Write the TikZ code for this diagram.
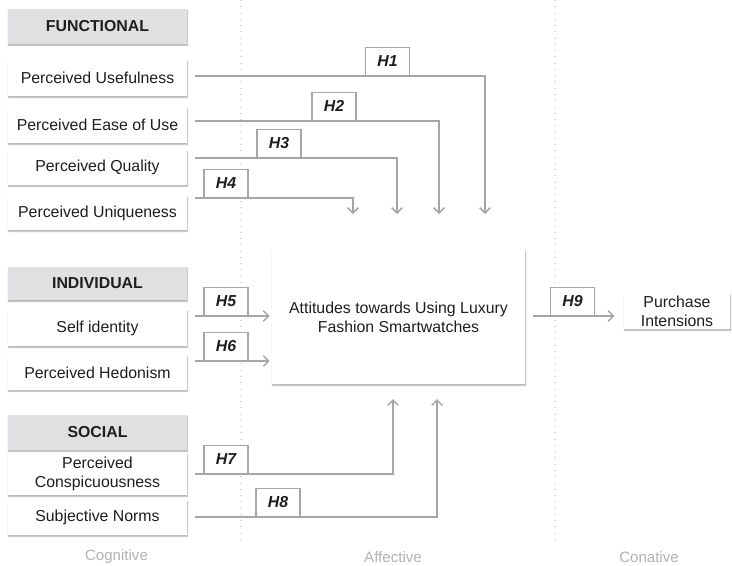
\documentclass[tikz,border=0pt]{standalone}
\usepackage{fontspec}
\setmainfont{Liberation Sans}
\usetikzlibrary{arrows.meta,shadows.blur}
\definecolor{linegray}{RGB}{165,165,170}
\definecolor{headgray}{RGB}{224,224,226}
\definecolor{stagegray}{RGB}{178,178,178}
\definecolor{inkgray}{RGB}{30,30,30}

\begin{document}
\begin{tikzpicture}
  [x=0.75pt,y=-0.75pt,
   every node/.style={font=\fontsize{11.9}{14}\selectfont,text=inkgray},
   factor/.style={fill=white,minimum width=134pt,align=center,inner sep=1pt,
     blur shadow={shadow xshift=.4pt,shadow yshift=-1pt,shadow blur radius=1pt,
       shadow blur steps=5,shadow opacity=35}},
   group/.style={factor,fill=headgray,font=\fontsize{11.9}{14}\selectfont\bfseries},
   hyp/.style={draw=linegray,line width=1pt,fill=white,minimum width=33pt,minimum height=21pt,
     anchor=south,inner sep=0pt,font=\fontsize{11.9}{14}\selectfont\bfseries\itshape},
   link/.style={draw=linegray,line width=1.1pt,-{Straight Barb[length=4pt,width=8pt]}},
   stage/.style={text=stagegray,font=\fontsize{11.3}{14}\selectfont},
   divider/.style={draw=linegray!45,line width=.9pt,dash pattern=on .7pt off 4pt}]
  \useasboundingbox (0,0) rectangle (732,565);

  \draw[divider] (241,0) -- (241,545);
  \draw[divider] (555,0) -- (555,545);

  \node[group,minimum height=26pt] (functional) at (97.5,26.5) {FUNCTIONAL};
  \node[factor,minimum height=27pt] (useful) at (97.5,78) {Perceived Usefulness};
  \node[factor,minimum height=27pt] (ease) at (97.5,125) {Perceived Ease of Use};
  \node[factor,minimum height=26pt] (quality) at (97.5,167.5) {Perceived Quality};
  \node[factor,minimum height=25.5pt] (unique) at (97.5,213) {Perceived Uniqueness};
  \node[group,minimum height=25pt] (individual) at (97.5,283.5) {INDIVIDUAL};
  \node[factor,minimum height=27pt] (self) at (97.5,328) {Self identity};
  \node[factor,minimum height=26pt] (hedon) at (97.5,372.5) {Perceived Hedonism};
  \node[group,minimum height=26pt] (social) at (97.5,432.5) {SOCIAL};
  \node[factor,minimum height=31.5pt] (consp) at (97.5,474) {Perceived\\Conspicuousness};
  \node[factor,minimum height=26pt] (norms) at (97.5,517.5) {Subjective Norms};

  \node[factor,minimum width=189.75pt,minimum height=100.5pt] (att) at (398.5,317)
    {Attitudes towards Using Luxury\\Fashion Smartwatches};
  \node[factor,minimum width=79.5pt,minimum height=26pt,inner sep=0pt] (purchase) at (677,311.5)
    {Purchase\\Intensions};

  \node[hyp] (h1) at (387.5,76) {H1};
  \node[hyp] (h2) at (334,121) {H2};
  \node[hyp] (h3) at (279,158) {H3};
  \node[hyp] (h4) at (226,198) {H4};
  \node[hyp] (h5) at (226,316) {H5};
  \node[hyp] (h6) at (226,361) {H6};
  \node[hyp] (h7) at (226,474) {H7};
  \node[hyp] (h8) at (278,517) {H8};
  \node[hyp] (h9) at (572.5,316) {H9};

  \coordinate (t1) at (485,214);
  \coordinate (t2) at (439,214);
  \coordinate (t3) at (397,214);
  \coordinate (t4) at (353,214);
  \coordinate (t7) at (393,399);
  \coordinate (t8) at (437,399);

  \foreach \src/\hyp/\tip in {useful/h1/t1,ease/h2/t2,quality/h3/t3,unique/h4/t4,consp/h7/t7,norms/h8/t8}
    \draw[link,shorten <=6pt] (\src.east |- \hyp.south) -| (\tip);
  \foreach \src/\hyp in {self/h5,hedon/h6}
    \draw[link,shorten <=6pt,shorten >=1.5pt] (\src.east |- \hyp.south) -- (\hyp.south -| att.west);
  \draw[link,shorten <=6pt,shorten >=7pt] (att.east |- h9.south) -- (h9.south -| purchase.west);

  \node[stage] (cognitive) at (116.5,557) {Cognitive};
  \node[stage] (affective) at (393,557) {Affective};
  \node[stage] (conative) at (649,557) {Conative};

\end{tikzpicture}
\end{document}
